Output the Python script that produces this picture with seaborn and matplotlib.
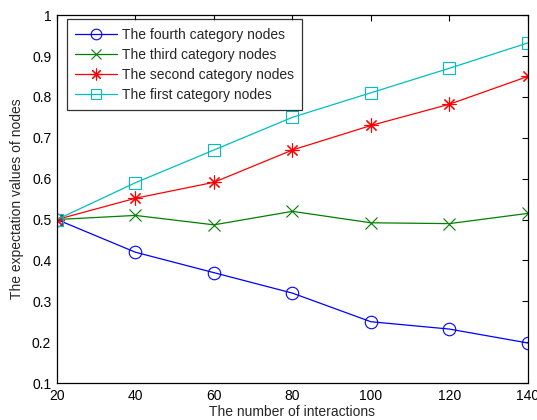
import matplotlib
matplotlib.use("Agg")
import matplotlib.pyplot as plt
import seaborn as sns
import pandas as pd

interactions = [20, 40, 60, 80, 100, 120, 140]
fourth = [0.50, 0.42, 0.37, 0.32, 0.25, 0.232, 0.198]
third = [0.50, 0.51, 0.487, 0.52, 0.492, 0.49, 0.515]
second = [0.50, 0.552, 0.591, 0.67, 0.73, 0.782, 0.85]
first = [0.50, 0.59, 0.67, 0.75, 0.81, 0.87, 0.932]

labels = ["The fourth category nodes", "The third category nodes",
          "The second category nodes", "The first category nodes"]
series = [fourth, third, second, first]

sns.set_style("white")
plt.rcParams["font.family"] = ["Liberation Sans", "DejaVu Sans"]
plt.rcParams["font.size"] = 10

fig = plt.figure(figsize=(5.37, 4.2), dpi=100)
ax = fig.add_axes([0.106, 0.088, 0.877, 0.876])

styles = [
    dict(color=(0, 0, 1), marker="o", markersize=9),
    dict(color=(0, 0.5, 0), marker="x", markersize=8),
    dict(color=(1, 0, 0), marker=(8, 2, 0), markersize=10),
    dict(color=(0, 0.75, 0.75), marker="s", markersize=9),
]

for lab, vals, st in zip(labels, series, styles):
    df = pd.DataFrame({"x": interactions, "y": vals})
    sns.lineplot(data=df, x="x", y="y", ax=ax, label=lab,
                 color=st["color"], marker=st["marker"],
                 markersize=st["markersize"], markerfacecolor="none",
                 markeredgecolor=st["color"], markeredgewidth=0.8,
                 linewidth=0.9)

ax.set_xlim(20, 140)
ax.set_ylim(0.1, 1.0)
ax.set_xticks(interactions)
ax.set_yticks([0.1, 0.2, 0.3, 0.4, 0.5, 0.6, 0.7, 0.8, 0.9, 1.0])
ax.set_yticklabels(["0.1", "0.2", "0.3", "0.4", "0.5", "0.6", "0.7", "0.8", "0.9", "1"])
ax.tick_params(direction="in", top=True, right=True, length=4, width=0.8,
               labelsize=10, colors="black", pad=4)
for sp in ax.spines.values():
    sp.set_visible(True)
    sp.set_color("black")
    sp.set_linewidth(0.9)

ax.set_xlabel("The number of interactions", fontsize=10, labelpad=2)
ax.set_ylabel("The expectation values of nodes", fontsize=10, labelpad=6)

leg = ax.legend(loc="upper left", bbox_to_anchor=(0.021, 0.989),
                borderaxespad=0, frameon=True, fancybox=False, fontsize=10,
                handlelength=3.0, borderpad=0.6, labelspacing=0.44,
                handletextpad=0.35, markerscale=0.85)
leg.get_frame().set_edgecolor("black")
leg.get_frame().set_linewidth(0.9)

fig.savefig("out.png", dpi=100)
